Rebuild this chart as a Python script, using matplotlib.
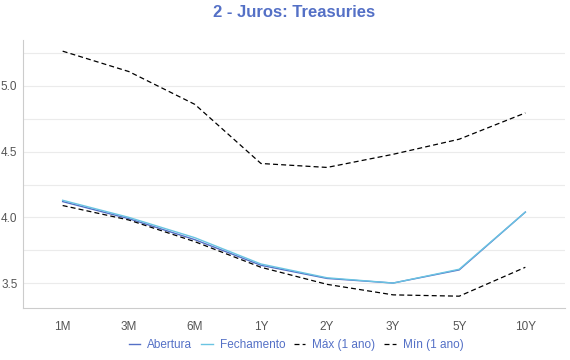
import matplotlib
matplotlib.use("Agg")
import matplotlib.pyplot as plt
from matplotlib.ticker import MultipleLocator

# Treasury curve data
vertices = ["1M", "3M", "6M", "1Y", "2Y", "3Y", "5Y", "10Y"]
abertura = [4.12, 3.99, 3.83, 3.635, 3.535, 3.50, 3.60, 4.04]
fechamento = [4.13, 4.00, 3.845, 3.645, 3.54, 3.50, 3.605, 4.04]
maximo = [5.265, 5.11, 4.86, 4.41, 4.38, 4.48, 4.595, 4.795]
minimo = [4.09, 3.98, 3.815, 3.62, 3.49, 3.41, 3.40, 3.62]

TITLE_COLOR = "#5470c6"
plt.rcParams['font.family'] = ['Liberation Sans', 'DejaVu Sans']

fig = plt.figure(figsize=(5.7, 3.6), dpi=100)
ax = fig.add_axes([23 / 570, 52 / 360, 542 / 570, 268 / 360])

x = list(range(len(vertices)))
ax.plot(x, abertura, color="#5470c6", lw=1.0, label="Abertura")
ax.plot(x, fechamento, color="#6ac4e2", lw=1.0, label="Fechamento")
ax.plot(x, maximo, color="black", lw=0.9, ls=(0, (4, 2.5)), label="Máx (1 ano)")
ax.plot(x, minimo, color="black", lw=0.9, ls=(0, (4, 2.5)), label="Mín (1 ano)")

ax.set_xlim(-0.6, 7.6)
ax.set_ylim(3.31, 5.35)
ax.set_xticks(x)
ax.set_xticklabels(vertices)
ax.yaxis.set_major_locator(MultipleLocator(0.5))
ax.yaxis.set_minor_locator(MultipleLocator(0.25))
ax.yaxis.set_major_formatter(matplotlib.ticker.FormatStrFormatter("%.1f"))
ax.grid(True, axis="y", which="both", color="#ebebeb", lw=0.8)
ax.set_axisbelow(True)

for s in ["top", "right"]:
    ax.spines[s].set_visible(False)
for s in ["left", "bottom"]:
    ax.spines[s].set_color("#cccccc")
ax.tick_params(axis="both", which="both", length=0, labelsize=8.5, labelcolor="#555555")
ax.tick_params(axis="x", pad=9)
ax.tick_params(axis="y", pad=4)

fig.suptitle("2 - Juros: Treasuries", x=294 / 570, y=0.985, color=TITLE_COLOR,
             fontsize=12, fontweight="bold")

leg = fig.legend(loc="center", bbox_to_anchor=(296 / 570, 15 / 360), ncol=4, frameon=False,
                 fontsize=8.5, handlelength=1.0, handletextpad=0.6, columnspacing=0.7)
for t in leg.get_texts():
    t.set_color(TITLE_COLOR)

fig.savefig("out.png", dpi=100)
